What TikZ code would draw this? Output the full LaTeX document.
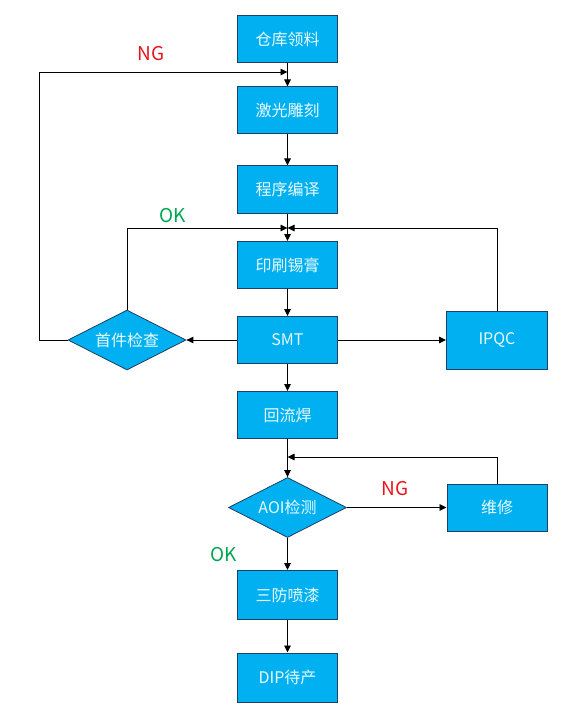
\documentclass[tikz,border=0pt]{standalone}
\usepackage{fontspec}
\setmainfont{Noto Sans CJK SC}
\usetikzlibrary{shapes.geometric,arrows.meta}
\definecolor{boxfill}{HTML}{00B0F0}
\definecolor{boxline}{HTML}{1F3F66}
\definecolor{boxtext}{HTML}{EAFBFF}
\definecolor{ngred}{HTML}{E8141C}
\definecolor{okgreen}{HTML}{00A651}
\tikzset{
  proc/.style={draw=boxline, fill=boxfill, line width=1pt, minimum width=100pt, minimum height=47pt, inner sep=0pt, text=boxtext, font=\fontsize{16}{19}\selectfont},
  dia/.style={draw=boxline, fill=boxfill, line width=0.8pt, shape=diamond, minimum width=118pt, minimum height=60pt, inner sep=0pt},
  dtext/.style={text=boxtext, font=\fontsize{16}{19}\selectfont},
  flow/.style={draw=black, line width=0.9pt, -{Triangle[length=7pt,width=6.5pt]}},
  plain/.style={draw=black, line width=0.9pt},
  lab/.style={font=\fontsize{19}{22}\selectfont}
}
\begin{document}
\begin{tikzpicture}[x=1pt,y=-1pt]
\useasboundingbox (0,0) rectangle (585,722);
% nodes
\node[proc] (a) at (287.5,39) {仓库领料};
\node[proc] (b) at (287.5,110.5) {激光雕刻};
\node[proc] (c) at (287.5,189.5) {程序编译};
\node[proc] (d) at (287.5,265) {印刷锡膏};
\node[proc] (e) at (287.5,340) {SMT};
\node[proc] (f) at (287.5,415) {回流焊};
\node[dia] (g) at (287.5,507.5) {};
\node[dtext] at (g.center) {AOI检测};
\node[proc, minimum height=49pt] (h) at (287.5,595) {三防喷漆};
\node[proc, minimum height=49pt] (i) at (287.5,677.5) {DIP待产};
\node[dia] (j) at (127,340) {};
\node[dtext] at (j.center) {首件检查};
\node[proc, minimum width=101pt, minimum height=58pt] (k) at (497,340) {IPQC};
\node[proc] (l) at (497,507.5) {维修};
% junction coordinates
\coordinate (ng1) at (287.5,72);
\coordinate (jn) at (287.5,228);
\coordinate (aoi) at (287.5,457);
% labels
\node[lab, text=ngred] (t1) at (151,54) {NG};
\node[lab, text=okgreen] (t2) at (173,216) {OK};
\node[lab, text=ngred] (t3) at (395,489) {NG};
\node[lab, text=okgreen] (t4) at (224,555) {OK};
% connectors
\draw[flow] (a.south) -- (b.north);
\draw[flow] (j.west) -- (39,340) -- (39,72) -- (ng1);
\draw[flow] (b.south) -- (c.north);
\draw[plain] (c.south) -- (jn);
\draw[flow] (jn) -- (d.north);
\draw[flow] (j.north) -- (127,228) -- (jn);
\draw[flow] (k.north) -- (497,228) -- (jn);
\draw[flow] (d.south) -- (e.north);
\draw[flow] (e.west) -- (j.east);
\draw[flow] (e.east) -- (k.west);
\draw[flow] (e.south) -- (f.north);
\draw[flow] (f.south) -- (g.north);
\draw[flow] (l.north) -- (497,457) -- (aoi);
\draw[flow] (g.east) -- (l.west);
\draw[flow] (g.south) -- (h.north);
\draw[flow] (h.south) -- (i.north);
\end{tikzpicture}
\end{document}
